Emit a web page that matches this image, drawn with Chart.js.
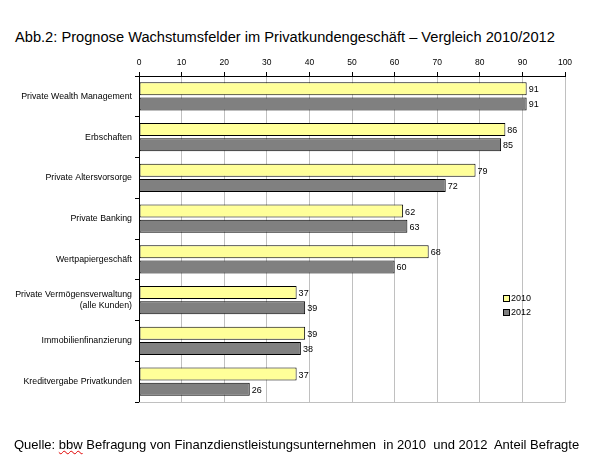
<!DOCTYPE html>
<html>
<head>
<meta charset="utf-8">
<script src="https://cdn.jsdelivr.net/npm/chart.js@4"></script>
<style>
  body { margin: 0; background: #fff; font-family: "Liberation Sans", Arial, sans-serif; }
  #wrap { position: relative; width: 592px; height: 461px; }
  #chart { position: absolute; left: 0; top: 0; }
  .title { position: absolute; left: 15px; top: 29px; font-size: 14.65px; color: #000; white-space: nowrap; }
  .source { position: absolute; left: 14px; top: 437px; font-size: 13px; color: #000; white-space: nowrap; }
  .source .sp { text-decoration: underline wavy #e00000; text-decoration-thickness: 1px; }
  .legend { position: absolute; left: 503px; top: 291px; font-size: 9px; line-height: 14px; }
  .legend span.box { display: inline-block; width: 5px; height: 5px; border: 1px solid #000; margin-right: 1px; vertical-align: -1px; }
</style>
</head>
<body>
<div id="wrap">
  <div class="title">Abb.2: Prognose Wachstumsfelder im Privatkundengeschäft – Vergleich 2010/2012</div>
  <canvas id="chart" width="592" height="461"></canvas>
  <div class="legend">
    <div><span class="box" style="background:#ffff99"></span>2010</div>
    <div><span class="box" style="background:#808080"></span>2012</div>
  </div>
  <div class="source">Quelle: <span class="sp">bbw</span> Befragung von Finanzdienstleistungsunternehmen&nbsp; in 2010&nbsp; und 2012&nbsp; Anteil Befragte</div>
</div>
<script>
const categories = [
  "Private Wealth Management",
  "Erbschaften",
  "Private Altersvorsorge",
  "Private Banking",
  "Wertpapiergeschäft",
  ["Private Vermögensverwaltung", "(alle Kunden)"],
  "Immobilienfinanzierung",
  "Kreditvergabe Privatkunden"
];
const values2010 = [91, 86, 79, 62, 68, 37, 39, 37];
const values2012 = [91, 85, 72, 63, 60, 39, 38, 26];
const axisTicks = [0, 10, 20, 30, 40, 50, 60, 70, 80, 90, 100];

const fontFamily = '"Liberation Sans", Arial, sans-serif';

// value labels right of each bar
const valueLabels = {
  id: 'valueLabels',
  afterDatasetsDraw(chart) {
    const ctx = chart.ctx;
    ctx.save();
    ctx.font = '9px ' + fontFamily;
    ctx.fillStyle = '#000';
    ctx.textBaseline = 'middle';
    chart.data.datasets.forEach((ds, i) => {
      chart.getDatasetMeta(i).data.forEach((bar, j) => {
        ctx.fillText(ds.data[j], bar.x + 2, bar.y + 1);
      });
    });
    ctx.restore();
  }
};

// gray bottom frame line
const bottomFrame = {
  id: 'bottomFrame',
  beforeDatasetsDraw(chart) {
    const { ctx, chartArea } = chart;
    ctx.save();
    ctx.strokeStyle = '#c0c0c0';
    ctx.lineWidth = 1;
    ctx.beginPath();
    ctx.moveTo(chartArea.left, Math.round(chartArea.bottom) + 0.5);
    ctx.lineTo(chartArea.right + 0.5, Math.round(chartArea.bottom) + 0.5);
    ctx.stroke();
    ctx.restore();
  }
};

new Chart(document.getElementById('chart'), {
  type: 'bar',
  data: {
    labels: categories,
    datasets: [
      {
        label: '2010',
        data: values2010,
        backgroundColor: '#ffff99',
        borderColor: '#000',
        borderWidth: 1,
        borderSkipped: false,
        categoryPercentage: 0.74,
        barPercentage: 0.86
      },
      {
        label: '2012',
        data: values2012,
        backgroundColor: '#808080',
        borderColor: '#000',
        borderWidth: 1,
        borderSkipped: false,
        categoryPercentage: 0.74,
        barPercentage: 0.86
      }
    ]
  },
  options: {
    indexAxis: 'y',
    responsive: false,
    animation: false,
    layout: { padding: { left: 0, right: 27, top: 50, bottom: 59 } },
    plugins: {
      legend: { display: false },
      tooltip: { enabled: false }
    },
    scales: {
      x: {
        position: 'top',
        min: 0,
        max: 100,
        afterBuildTicks(scale) {
          scale.ticks = axisTicks.map(v => ({ value: v }));
        },
        afterFit(scale) { scale.height = 26; },
        grid: {
          color: '#c0c0c0',
          tickColor: '#000',
          tickLength: 4
        },
        border: { color: '#000', width: 1 },
        ticks: {
          color: '#000',
          padding: 4,
          font: { family: fontFamily, size: 8.5 }
        }
      },
      y: {
        afterFit(scale) { scale.width = 139; },
        grid: {
          offset: true,
          drawOnChartArea: false,
          tickColor: '#000',
          tickLength: 4
        },
        border: { color: '#000', width: 1 },
        ticks: {
          color: '#000',
          padding: 3,
          font: { family: fontFamily, size: 8.8 }
        }
      }
    }
  },
  plugins: [valueLabels, bottomFrame]
});
</script>
</body>
</html>
